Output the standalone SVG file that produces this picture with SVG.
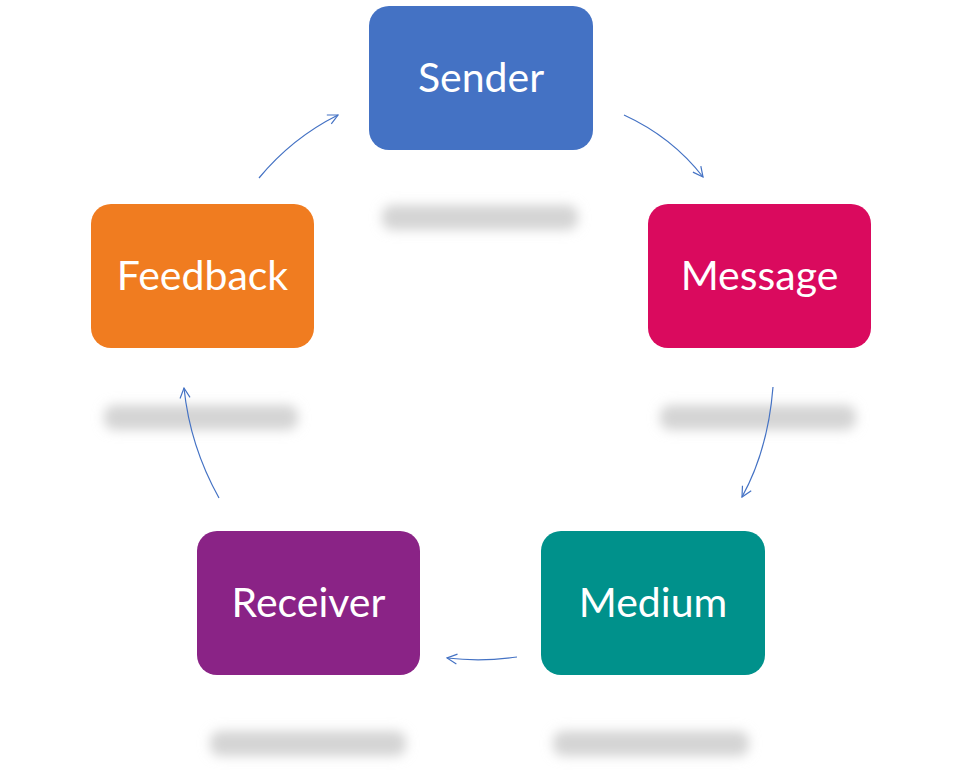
<svg xmlns="http://www.w3.org/2000/svg" width="961" height="784" viewBox="0 0 961 784">
<defs>
<style>
.lbl{font-family:Lato,"Open Sans","Liberation Sans",sans-serif;font-size:41px;fill:#fff;text-anchor:middle}
.bar{fill:#d4d4d4;filter:url(#blur)}
.arr{fill:none;stroke:#4472C4;stroke-width:1.2;marker-end:url(#ah)}
</style>
<filter id="blur" x="-20%" y="-100%" width="140%" height="300%"><feGaussianBlur stdDeviation="6"/></filter>
<marker id="ah" viewBox="0 0 12 12" refX="11" refY="6" markerWidth="12" markerHeight="12" markerUnits="userSpaceOnUse" orient="auto"><path d="M1,1 L11,6 L1,11" fill="none" stroke="#4472C4" stroke-width="1.2"/></marker>
</defs>
<rect width="961" height="784" fill="#fff"/>
<g id="bars">
<rect class="bar" x="382" y="205" width="196" height="25" rx="10"/>
<rect class="bar" x="660" y="405" width="196" height="25" rx="10"/>
<rect class="bar" x="104" y="405" width="194" height="25" rx="10"/>
<rect class="bar" x="210" y="731" width="196" height="25" rx="10"/>
<rect class="bar" x="553" y="731" width="196" height="25" rx="10"/>
</g>
<g id="connectors">
<path class="arr" d="M259,178 Q292,138 338,115"/>
<path class="arr" d="M624,115 Q672,137 703,177"/>
<path class="arr" d="M773,387 Q768,450 742,497"/>
<path class="arr" d="M517,657 Q482,662 447,658"/>
<path class="arr" d="M219,498 Q190,446 184,388"/>
</g>
<g id="sender"><rect x="369" y="6" width="224" height="144" rx="20" fill="#4472C4"/><text class="lbl" x="481" y="92">Sender</text></g>
<g id="message"><rect x="648" y="204" width="223" height="144" rx="20" fill="#DA0A5E"/><text class="lbl" x="759.5" y="290">Message</text></g>
<g id="medium"><rect x="541" y="531" width="224" height="144" rx="20" fill="#00918B"/><text class="lbl" x="653" y="617">Medium</text></g>
<g id="receiver"><rect x="197" y="531" width="223" height="144" rx="20" fill="#8A2386"/><text class="lbl" x="308.5" y="617">Receiver</text></g>
<g id="feedback"><rect x="91" y="204" width="223" height="144" rx="20" fill="#F07C20"/><text class="lbl" x="202.5" y="290">Feedback</text></g>
</svg>
